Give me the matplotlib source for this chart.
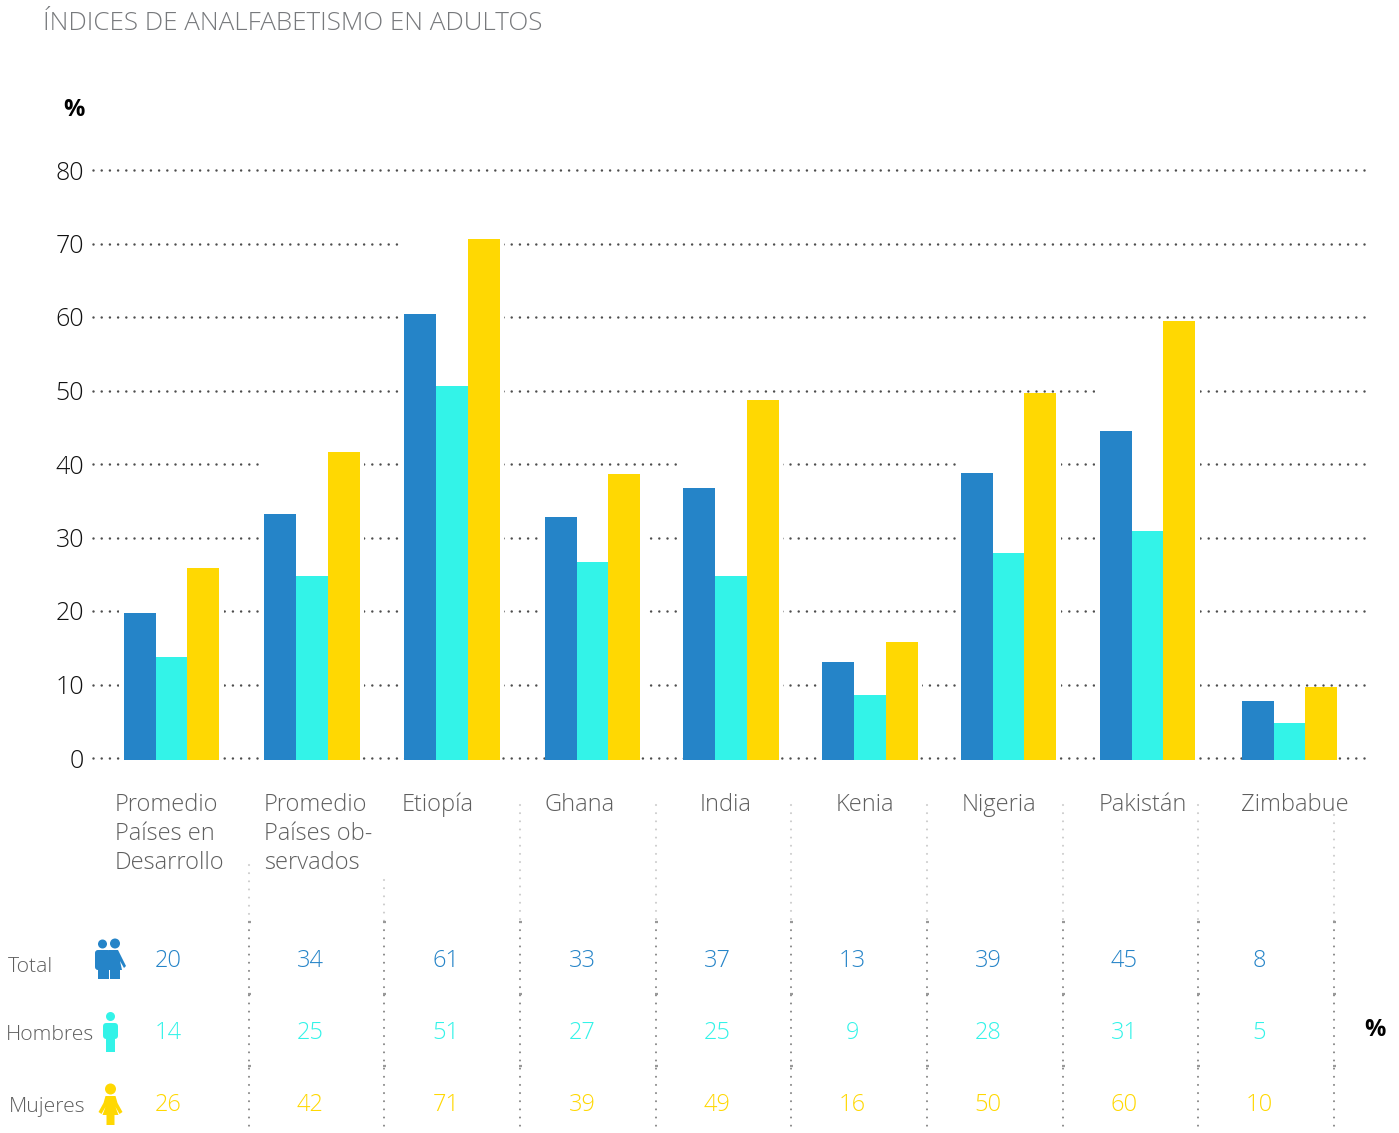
import matplotlib
matplotlib.use('Agg')
import matplotlib.pyplot as plt
from matplotlib.patches import Circle, Polygon, Rectangle, FancyBboxPatch

plt.rcParams['font.family'] = ['Open Sans', 'DejaVu Sans']
plt.rcParams['font.weight'] = 'light'

# data
countries = ['Promedio\nPaíses en\nDesarrollo', 'Promedio\nPaíses ob-\nservados', 'Etiopía', 'Ghana', 'India',
             'Kenia', 'Nigeria', 'Pakistán', 'Zimbabue']
total = [19.7, 33.2, 60.4, 32.8, 36.7, 13.0, 38.8, 44.5, 7.8]
hombres = [13.7, 24.8, 50.6, 26.6, 24.8, 8.6, 27.9, 30.9, 4.8]
mujeres = [25.8, 41.6, 70.6, 38.6, 48.7, 15.8, 49.6, 59.5, 9.7]
total_lbl = ['20', '34', '61', '33', '37', '13', '39', '45', '8']
hombres_lbl = ['14', '25', '51', '27', '25', '9', '28', '31', '5']
mujeres_lbl = ['26', '42', '71', '39', '49', '16', '50', '60', '10']
yticks = [0, 10, 20, 30, 40, 50, 60, 70, 80]

# layout, all in pixels of the 1399x1133 picture
W, H = 1399, 1133
group_left = [124, 264, 404, 545, 683, 822, 961, 1100, 1242]
yellow_left = [187, 328, 468, 608, 747, 886, 1024, 1163, 1305]
bar_w = 32
label_x = [115, 264, 402, 545, 700, 836, 962, 1099, 1241]
col_x = [168, 310, 446, 582, 717, 852, 988, 1124, 1259]
sep_x = [249, 384, 520, 656, 791, 927, 1063, 1198, 1334]
sep_top = [865, 880, 805, 805, 805, 805, 805, 805, 815]
row_y = [961, 1033, 1105]

BLUE = '#2584c8'
CYAN = '#33f3e8'
YELLOW = '#ffd802'
GREY = '#5f5f5f'

fig = plt.figure(figsize=(W / 100, H / 100), dpi=100)

# chart axes: y=0 at 758px, y=80 at 170px
base = -2 / 7.35
ax = fig.add_axes([93 / W, 1 - 760 / H, (1369 - 93) / W, (760 - 170) / H])
ax.set_xlim(93, 1369)
ax.set_ylim(base, 80)
for s in ax.spines.values():
    s.set_visible(False)
ax.set_yticks(yticks)
ax.tick_params(axis='y', length=0, pad=6.5, labelsize=18, labelcolor='#111111')
ax.set_xticks([])
ax.grid(axis='y', color='#4d4d4d', lw=1.8, linestyle=(0, (0.01, 3.27)), dash_capstyle='round', zorder=0, clip_on=False)
ax.set_axisbelow(True)

for i, left in enumerate(group_left):
    top = max(total[i], hombres[i], mujeres[i])
    # gridlines stop a little before the bars
    ax.add_patch(Rectangle((left - 5, 0.6), bar_w * 3 + 9, top - 0.6, fc='white', ec='none', zorder=1))
    ax.bar(left + bar_w / 2, total[i] - base, bar_w, bottom=base, color=BLUE, zorder=2)
    ax.bar(left + bar_w * 1.5, hombres[i] - base, bar_w, bottom=base, color=CYAN, zorder=2)
    ax.bar(yellow_left[i] + bar_w / 2, mujeres[i] - base, bar_w, bottom=base, color=YELLOW, zorder=2)

# overlay in picture pixels for the table below
ov = fig.add_axes([0, 0, 1, 1], facecolor='none')
ov.set_xlim(0, W)
ov.set_ylim(H, 0)
ov.axis('off')

ov.text(43, 23, 'ÍNDICES DE ANALFABETISMO EN ADULTOS', fontsize=18.7, color='#77797c', va='center', ha='left')
ov.text(74, 110, '%', fontsize=17, fontweight='bold', color='black', va='center', ha='center')
ov.text(1375, 1030, '%', fontsize=17, fontweight='bold', color='black', va='center', ha='center')

for x, name in zip(label_x, countries):
    for k, line in enumerate(name.split('\n')):
        ov.text(x, 811 + 29 * k, line, fontsize=17, color=GREY, va='baseline', ha='left')

for x, top in zip(sep_x, sep_top):
    ov.plot([x, x], [top, 922], color='#cccccc', lw=1.5, linestyle=(0, (0.01, 3.9)), dash_capstyle='round')
    ov.plot([x, x], [922, H], color='#888888', lw=1.5, linestyle=(0, (0.01, 3.9)), dash_capstyle='round')
    for y in (922, 994, 1066):
        ov.plot([x - 1.5, x + 2], [y, y], color='#999999', lw=1.6, solid_capstyle='butt')

for x, a, b, c in zip(col_x, total_lbl, hombres_lbl, mujeres_lbl):
    ov.text(x, row_y[0], a, fontsize=17, color=BLUE, va='center', ha='center')
    ov.text(x, row_y[1], b, fontsize=17, color=CYAN, va='center', ha='center')
    ov.text(x, row_y[2], c, fontsize=17, color=YELLOW, va='center', ha='center')

ov.text(8, 967, 'Total', fontsize=15.2, color=GREY, va='center', ha='left')
ov.text(6, 1035, 'Hombres', fontsize=15.2, color=GREY, va='center', ha='left')
ov.text(9, 1107, 'Mujeres', fontsize=15.2, color=GREY, va='center', ha='left')


def man(x, y0, color):
    ov.add_patch(Circle((x, y0 + 4.5), 4.5, fc=color, ec='none'))
    ov.add_patch(FancyBboxPatch((x - 7.5, y0 + 11), 15, 16, boxstyle='round,pad=0,rounding_size=3.5', fc=color, ec='none'))
    ov.add_patch(Rectangle((x - 4.5, y0 + 20), 9, 20, fc=color, ec='none'))


def woman(x, y0, color):
    ov.add_patch(Circle((x, y0 + 5), 5.5, fc=color, ec='none'))
    ov.add_patch(Polygon([(x - 5, y0 + 12), (x + 5, y0 + 12), (x + 7, y0 + 19), (x + 12, y0 + 28), (x + 9, y0 + 30),
                          (x + 5, y0 + 23), (x + 8, y0 + 31), (x + 4, y0 + 31), (x + 4, y0 + 41), (x - 4, y0 + 41),
                          (x - 4, y0 + 31), (x - 8, y0 + 31), (x - 5, y0 + 23), (x - 9, y0 + 30), (x - 12, y0 + 28),
                          (x - 7, y0 + 19)], fc=color, ec='none'))


man(110.5, 1012, CYAN)
woman(110.5, 1084, YELLOW)
# couple
ov.add_patch(Circle((102.5, 944), 4.5, fc=BLUE, ec='none'))
ov.add_patch(Circle((115, 943.5), 5, fc=BLUE, ec='none'))
ov.add_patch(FancyBboxPatch((95, 950), 16, 20, boxstyle='round,pad=0,rounding_size=3', fc=BLUE, ec='none'))
ov.add_patch(Rectangle((98, 965), 22, 14, fc=BLUE, ec='none'))
ov.add_patch(Rectangle((108.5, 968), 1.5, 11, fc='white', ec='none'))
ov.add_patch(Polygon([(109, 950), (118, 950), (126, 966), (124, 968), (120, 961), (122, 970), (108, 970)], fc=BLUE, ec='none'))

fig.savefig('out.png', dpi=100, facecolor='white')
